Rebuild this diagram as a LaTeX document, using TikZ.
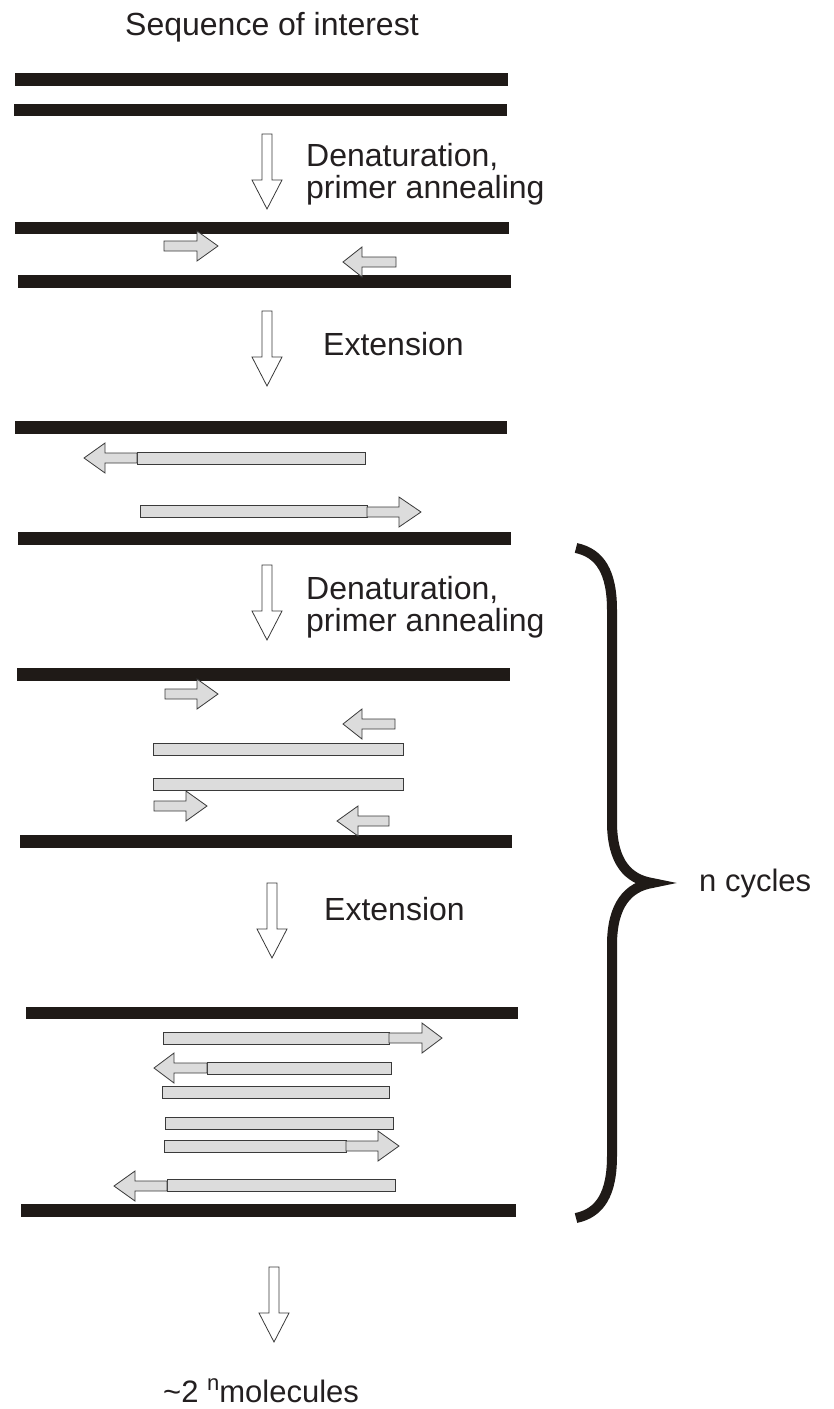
\documentclass[tikz,border=0pt]{standalone}
\usepackage{fontspec}
\setmainfont{Liberation Sans}
\definecolor{barcol}{HTML}{1F1A17}
\definecolor{strandfill}{HTML}{DCDCDC}
\definecolor{edgecol}{HTML}{3A3A3A}
\definecolor{txtcol}{HTML}{231F20}
\newcommand\strandbar[3]{\draw[strand] (#1,#3-6) rectangle (#2,#3+6);}
\newcommand\rprimer[4]{\draw[strand] (#1,#4-5) -- (#2,#4-5) -- (#2,#4-15) -- (#3,#4) -- (#2,#4+15) -- (#2,#4+5) -- (#1,#4+5) -- cycle;}
\newcommand\lprimer[4]{\draw[strand] (#3,#4-5) -- (#2,#4-5) -- (#2,#4-15) -- (#1,#4) -- (#2,#4+15) -- (#2,#4+5) -- (#3,#4+5) -- cycle;}
\newcommand\hollowarrow[2]{\draw[hollow] (#1-5,#2) -- (#1+5,#2) -- (#1+5,#2+46) -- (#1+15,#2+46) -- (#1,#2+75) -- (#1-15,#2+46) -- (#1-5,#2+46) -- cycle;}
\begin{document}
\begin{tikzpicture}[x=1pt,y=-1pt,
  dnabar/.style={fill=barcol,draw=none},
  strand/.style={fill=strandfill,draw=edgecol,line width=0.8pt,line join=miter},
  hollow/.style={fill=white,draw=edgecol,line width=0.8pt},
  lbl/.style={inner sep=0pt,anchor=base west,text=txtcol,font=\fontsize{32}{32}\selectfont},
  brace/.style={draw=barcol,line width=10pt}]
\useasboundingbox (0,0) rectangle (834,1409);
\fill[white] (0,0) rectangle (834,1409);

% titles and labels
\node[lbl] (title) at (125,35) {Sequence of interest};
\node[lbl] (den1a) at (306,166) {Denaturation,};
\node[lbl] (den1b) at (306,198) {primer annealing};
\node[lbl] (ext1) at (323,355) {Extension};
\node[lbl] (den2a) at (306,599) {Denaturation,};
\node[lbl] (den2b) at (306,631) {primer annealing};
\node[lbl] (ext2) at (324,920) {Extension};
\node[lbl,font=\fontsize{31}{31}\selectfont] (ncyc) at (699,891) {n cycles};
\node[lbl,font=\fontsize{31}{31}\selectfont] (result) at (163,1402) {\textasciitilde 2 \raisebox{12pt}{\fontsize{22}{22}\selectfont n}molecules};

% section 1
\fill[dnabar] (15,73) rectangle (508,86);
\fill[dnabar] (14,104) rectangle (507,116);
\hollowarrow{267}{134}

% section 2
\fill[dnabar] (15,222) rectangle (509,234);
\fill[dnabar] (18,275) rectangle (511,288);
\rprimer{164}{197}{218}{246}
\lprimer{343}{362}{396}{262}
\hollowarrow{267}{311}

% section 3
\fill[dnabar] (15,421) rectangle (507,434);
\fill[dnabar] (18,532) rectangle (511,545);
\strandbar{137}{365}{458}
\lprimer{84}{105}{137}{458}
\strandbar{140}{367}{511}
\rprimer{367}{399}{421}{512}
\hollowarrow{267}{565}

% section 4
\fill[dnabar] (17,668) rectangle (510,681);
\fill[dnabar] (20,835) rectangle (512,848);
\rprimer{165}{197}{218}{694}
\lprimer{343}{362}{395}{724}
\strandbar{153}{403}{749}
\strandbar{153}{403}{784}
\rprimer{154}{186}{207}{806}
\lprimer{337}{358}{389}{821}
\hollowarrow{272}{883}

% section 5
\fill[dnabar] (26,1007) rectangle (518,1019);
\fill[dnabar] (21,1204) rectangle (516,1217);
\strandbar{163}{389}{1038}
\rprimer{389}{422}{442}{1038}
\strandbar{207}{391}{1068}
\lprimer{154}{174}{207}{1068}
\strandbar{162}{389}{1092}
\strandbar{165}{393}{1123}
\strandbar{164}{346}{1146}
\rprimer{346}{378}{399}{1146}
\strandbar{167}{395}{1185}
\lprimer{114}{135}{167}{1186}
\hollowarrow{274}{1267}

% brace
\draw[brace] (576,548) .. controls (600,553) and (612,572) .. (612,610)
  -- (612,822) .. controls (612,862) and (628,879) .. (652,883)
  .. controls (628,887) and (612,905) .. (612,945)
  -- (612,1156) .. controls (612,1194) and (600,1213) .. (576,1218);
\end{tikzpicture}
\end{document}
